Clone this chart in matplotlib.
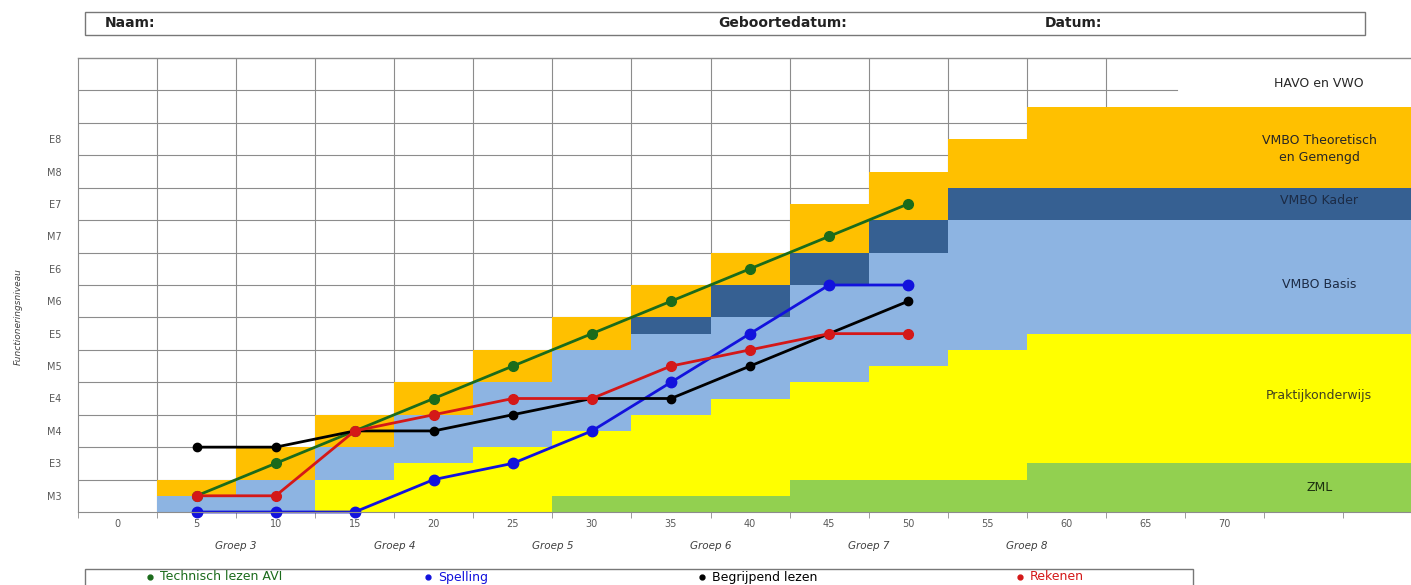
import matplotlib.pyplot as plt
from matplotlib.patches import Rectangle
from matplotlib.lines import Line2D

plt.rcParams['font.family'] = ['DejaVu Sans']

# kolommen per groep (linkerrand, breedte)
kolom_links = [2.5, 7.5, 12.5, 17.5, 22.5, 27.5, 32.5, 37.5, 42.5, 47.5, 52.5, 57.5]
kolom_breed = [5, 5, 5, 5, 5, 5, 5, 5, 5, 5, 5, 25]

# bovengrens van elke uitstroomzone per kolom
zml_top = [0, 0, 0, 0, 0, 0.5, 0.5, 0.5, 1, 1, 1, 1.5]
prakt_top = [0, 0, 1, 1.5, 2, 2.5, 3, 3.5, 4, 4.5, 5, 5.5]
basis_top = [0.5, 1, 2, 3, 4, 5, 5.5, 6, 7, 8, 9, 9]
kader_top = [0.5, 1, 2, 3, 4, 5, 6, 7, 8, 9, 10, 10]
tl_top = [1, 2, 3, 4, 5, 6, 7, 8, 9.5, 10.5, 11.5, 12.5]

# meetmomenten (maanden onderwijs)
maanden = [5, 10, 15, 20, 25, 30, 35, 40, 45, 50]
technisch = [0.5, 1.5, 2.5, 3.5, 4.5, 5.5, 6.5, 7.5, 8.5, 9.5]
spelling = [0, 0, 0, 1, 1.5, 2.5, 4, 5.5, 7, 7]
begrijpend = [2, 2, 2.5, 2.5, 3, 3.5, 3.5, 4.5, 5.5, 6.5]
rekenen = [0.5, 0.5, 2.5, 3, 3.5, 3.5, 4.5, 5, 5.5, 5.5]

niveaus = ['M3', 'E3', 'M4', 'E4', 'M5', 'E5', 'M6', 'E6', 'M7', 'E7', 'M8', 'E8']
groepen = ['Groep 3', 'Groep 4', 'Groep 5', 'Groep 6', 'Groep 7', 'Groep 8']

fig = plt.figure(figsize=(14.11, 5.85), dpi=100)
ax = fig.add_axes([78 / 1411, 1 - 512 / 585, 1 - 78 / 1411, (512 - 58) / 585])
ax.set_xlim(-2.5, 81.8)
ax.set_ylim(0, 14)

# raster
grijs = '#8c8c8c'
for y in range(1, 14):
    ax.plot([-2.5, 67], [y, y], color=grijs, lw=0.8, zorder=0.5)
for x in range(0, 13):
    xv = 2.5 + 5 * x
    ax.plot([xv, xv], [0, 14], color=grijs, lw=0.8, zorder=0.5)
ax.plot([-2.5, 81.8], [14, 14], color=grijs, lw=1.0, zorder=0.5, clip_on=False)

# zones
def laag(onder, boven, kleur):
    hoogte = [b - o for o, b in zip(onder, boven)]
    ax.bar(kolom_links, hoogte, width=kolom_breed, bottom=onder, align='edge',
           color=kleur, linewidth=0, zorder=1)

nul = [0] * len(kolom_links)
laag(nul, zml_top, '#92D050')
laag(zml_top, prakt_top, '#FFFF00')
laag(prakt_top, basis_top, '#8DB4E2')
laag(basis_top, kader_top, '#366092')
laag(kader_top, tl_top, '#FFC000')

# lijnen
reeksen = [
    ('Technisch lezen AVI', technisch, '#1b6b1b', 7),
    ('Spelling', spelling, '#1212dd', 7.5),
    ('Begrijpend lezen', begrijpend, '#000000', 6),
    ('Rekenen', rekenen, '#d41818', 7),
]
volgorde = [1, 2, 3, 0]
for i in volgorde:
    naam, waarden, kleur, ms = reeksen[i]
    ax.plot(maanden, waarden, color=kleur, lw=2, marker='o', markersize=ms,
            zorder=3 + i, clip_on=False)

# assen
for s in ['top', 'right']:
    ax.spines[s].set_visible(False)
for s in ['left', 'bottom']:
    ax.spines[s].set_color(grijs)
    ax.spines[s].set_zorder(6)

ax.set_yticks([i + 0.5 for i in range(len(niveaus))])
ax.set_yticklabels(niveaus, fontsize=7, color='#595959')
ax.tick_params(axis='y', length=0, pad=12)

ax.set_xticks(range(0, 75, 5))
ax.set_xticklabels([str(v) for v in range(0, 75, 5)], fontsize=7, color='#595959')
ax.set_xticks([-2.5 + 5 * i for i in range(17)], minor=True)
ax.tick_params(axis='x', which='major', length=0, pad=5)
ax.tick_params(axis='x', which='minor', length=4, color=grijs, direction='out')

for i, g in enumerate(groepen):
    ax.text(7.5 + 10 * i, -1.05, g, ha='center', va='center', fontsize=7.5,
            style='italic', color='#404040', clip_on=False)

fig.text(18 / 1411, 1 - 317 / 585, 'Functioneringsniveau', rotation=90, ha='center',
         va='center', fontsize=6.5, style='italic', color='#404040')

# zonenamen rechts
zones = [
    ('HAVO en VWO', 13.2, '#262626'),
    ('VMBO Theoretisch\nen Gemengd', 11.2, '#262626'),
    ('VMBO Kader', 9.6, '#1c2b45'),
    ('VMBO Basis', 7.0, '#1c2b45'),
    ('Praktijkonderwijs', 3.6, '#404020'),
    ('ZML', 0.77, '#1c3010'),
]
for tekst, y, kleur in zones:
    ax.text(76, y, tekst, ha='center', va='center', fontsize=9, color=kleur,
            zorder=8, linespacing=1.4)

# kopregel
fig.add_artist(Rectangle((85 / 1411, 1 - 35 / 585), (1365 - 85) / 1411, 23 / 585,
                         transform=fig.transFigure, fill=False, edgecolor='#777777', lw=1))
for tekst, px in [('Naam:', 105), ('Geboortedatum:', 718), ('Datum:', 1045)]:
    fig.text(px / 1411, 1 - 23 / 585, tekst, ha='left', va='center', fontsize=10,
             fontweight='bold', color='#222222')

# legenda
fig.add_artist(Rectangle((85 / 1411, -0.01), (1193 - 85) / 1411, 0.01 + 16 / 585,
                         transform=fig.transFigure, fill=False, edgecolor='#777777', lw=1))
leg_x = [150, 428, 702, 1020]
for (naam, waarden, kleur, ms), px in zip(reeksen, leg_x):
    fig.add_artist(Line2D([px / 1411], [1 - 577 / 585], marker='o', markersize=3.5,
                          color=kleur, transform=fig.transFigure))
    fig.text((px + 10) / 1411, 1 - 577 / 585, naam, ha='left', va='center',
             fontsize=9, color=kleur)

plt.savefig('out.png', dpi=100)
